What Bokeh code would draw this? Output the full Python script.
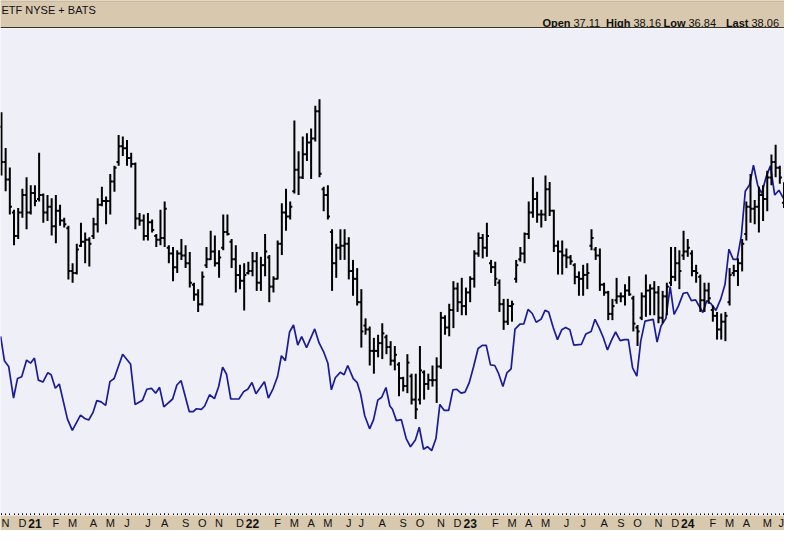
import numpy as np
from bokeh.plotting import figure
from bokeh.layouts import column
from bokeh.models import Range1d, LinearAxis, FixedTicker, Label, Span, ColumnDataSource
from bokeh.core.properties import value
from bokeh.embed import file_html
from bokeh.resources import INLINE

# ---------------- data (weekly OHLC bars, index 0 = first week shown) ----------------
high = [41.75, 39.92, 38.92, 36.75, 36.83, 37.83, 38.42, 38.00, 38.00, 39.67,
        37.58, 37.50, 37.33, 37.50, 37.00, 36.33, 35.92, 34.00, 35.00, 36.08,
        35.58, 35.33, 36.33, 37.33, 37.92, 37.42, 38.58, 39.00, 40.58, 40.50,
        40.33, 39.67, 39.17, 36.58, 36.50, 36.58, 36.25, 35.50, 36.75, 37.17,
        34.92, 34.83, 34.67, 35.25, 34.92, 34.58, 33.00,
        32.67, 33.58, 34.83,
        35.67, 35.42, 34.67, 36.50, 36.50, 35.25, 34.92, 33.92, 34.00, 34.08,
        34.58, 34.58, 34.33, 35.50, 34.42, 33.33, 35.17, 37.08, 37.83, 37.17,
        41.33, 39.75, 40.50, 40.67, 40.92, 42.08, 42.42, 37.92, 38.00, 35.75,
        35.00, 35.75, 35.75, 35.33, 34.17, 33.75, 32.67, 31.17, 30.75, 30.17,
        30.33, 30.92, 30.33, 30.00,
        29.75, 28.92, 28.17, 29.33, 28.33, 28.33,
        29.75, 28.50, 28.33, 28.75, 29.17, 31.50, 31.33, 31.92, 33.08, 33.00,
        33.25, 32.75, 33.33, 34.67, 35.58, 35.50, 36.08, 34.17, 34.08, 33.17,
        32.17, 32.17, 32.08, 34.17, 34.83, 35.58, 37.17, 38.42, 37.67, 36.75,
        38.50, 38.17, 36.75, 35.17, 35.17, 34.75, 34.42, 34.00, 33.58, 33.92, 34.00,
        35.75, 34.83, 34.75, 33.00, 32.58, 32.17, 33.25, 32.50, 32.92,
        33.33, 32.33, 30.83, 32.50, 33.42, 32.92, 33.08, 32.83, 32.58, 33.00,
        34.83, 34.83, 34.67, 35.67, 35.25, 34.67, 33.92, 33.42, 33.00, 33.00,
        31.83, 31.50, 31.42, 31.50, 33.75, 33.92, 34.25, 35.25, 37.17, 38.58,
        37.25, 37.92, 38.00, 38.75, 39.58, 40.08, 39.00, 38.16]

low = [38.50, 37.70, 36.50, 34.92, 35.25, 36.33, 35.75, 36.50, 36.92, 37.17,
       36.08, 36.17, 35.42, 35.03, 35.92, 35.83, 33.17, 33.00, 33.42, 34.83,
       34.00, 33.83, 35.25, 35.58, 36.92, 36.00, 36.50, 37.67, 39.00, 39.50,
       39.00, 38.92, 35.75, 35.92, 35.17, 35.17, 35.58, 34.83, 34.92, 34.83,
       34.00, 33.08, 33.50, 34.17, 33.75, 32.75, 32.08,
       31.50, 31.83, 33.75,
       34.17, 33.83, 33.25, 34.67, 35.42, 33.75, 32.50, 32.67, 31.58, 33.42,
       33.33, 32.58, 32.58, 33.33, 32.00, 32.50, 33.17, 34.42, 35.67, 36.25,
       37.58, 37.50, 38.33, 39.25, 38.33, 40.25, 38.42, 36.67, 36.25, 32.58,
       33.25, 34.17, 34.17, 33.17, 32.33, 31.83, 29.67, 30.33, 28.75, 28.33,
       29.17, 29.08, 29.33, 28.75,
       28.50, 27.17, 27.42, 27.33, 26.75, 26.00,
       26.75, 27.00, 27.50, 27.67, 26.83, 28.58, 30.33, 30.25, 30.67, 31.50,
       31.33, 31.33, 32.00, 32.75, 34.33, 34.25, 34.33, 33.50, 32.83, 31.50,
       30.58, 30.83, 31.00, 33.00, 34.08, 34.00, 35.25, 36.33, 36.08, 35.83,
       36.17, 36.42, 34.58, 33.42, 33.42, 33.75, 33.92, 32.92, 32.33, 32.33, 32.67,
       34.67, 34.17, 32.58, 32.33, 31.08, 31.08, 31.92, 32.00, 31.83,
       32.33, 30.50, 29.75, 31.08, 31.25, 31.33, 31.33, 30.92, 30.92, 31.33,
       32.83, 33.08, 32.67, 34.17, 34.33, 33.33, 33.00, 31.50, 31.50, 31.92,
       31.00, 30.08, 30.08, 30.00, 31.83, 33.33, 32.83, 33.58, 35.17, 36.08,
       36.00, 35.58, 36.17, 36.67, 38.00, 38.42, 38.08, 36.84]

open_ = [41.0, 39.2, 38.3, 36.6, 35.4, 36.6, 37.5, 36.6, 37.6, 37.3,
         37.5, 36.6, 36.9, 35.9, 36.7, 36.2, 35.8, 33.6, 33.5, 34.9,
         35.1, 35.2, 35.4, 36.0, 37.0, 37.2, 37.2, 38.2, 39.2, 40.0,
         39.9, 39.4, 39.1, 36.3, 36.2, 35.4, 36.1, 35.4, 35.2, 35.3,
         34.8, 34.5, 33.8, 34.5, 34.4, 34.0, 32.9,
         32.4, 31.9, 33.9,
         34.2, 34.6, 34.0, 34.8, 35.6, 35.1, 34.2, 33.4, 33.1, 33.5,
         33.6, 34.1, 33.0, 33.9, 34.3, 32.8, 33.2, 35.0, 36.6, 36.4,
         37.7, 38.8, 38.4, 39.6, 40.2, 40.4, 41.8, 37.8, 37.5, 35.6,
         34.0, 34.8, 34.9, 35.0, 33.6, 33.2, 32.0, 30.8, 30.6, 29.5,
         29.5, 29.9, 30.2, 29.7,
         29.0, 28.8, 28.1, 27.7, 28.2, 27.0,
         27.0, 28.4, 27.8, 28.0, 28.0, 28.7, 31.2, 30.7, 31.6, 32.7,
         32.0, 31.8, 32.5, 33.2, 34.5, 35.3, 34.8, 34.0, 33.8, 33.0,
         31.9, 31.0, 31.8, 33.2, 34.2, 34.5, 35.5, 36.6, 37.3, 36.5,
         36.5, 37.8, 36.7, 34.9, 34.6, 34.4, 34.3, 33.9, 33.3, 33.2, 33.4,
         34.9, 34.7, 34.4, 32.9, 32.5, 31.4, 32.1, 32.3, 32.3,
         32.6, 32.2, 30.7, 31.2, 32.3, 32.6, 32.7, 32.5, 31.2, 32.3,
         33.0, 33.3, 34.0, 34.4, 34.6, 34.5, 33.6, 33.3, 32.1, 32.6,
         31.6, 31.3, 30.6, 31.0, 32.0, 33.5, 33.6, 34.0, 35.5, 36.9,
         36.8, 36.9, 37.5, 37.3, 38.4, 39.2, 38.9, 37.11]

close = [39.2, 38.3, 36.9, 35.4, 36.6, 37.5, 36.6, 37.6, 37.2, 37.5,
         36.6, 36.9, 35.9, 36.7, 36.2, 36.0, 33.6, 33.5, 34.7, 35.1,
         35.2, 35.0, 36.0, 37.0, 37.2, 37.2, 38.2, 38.9, 40.0, 39.9,
         39.4, 39.1, 36.3, 36.2, 35.4, 36.1, 35.7, 35.2, 35.3, 36.8,
         34.5, 33.8, 34.5, 34.4, 34.0, 33.0, 32.4,
         31.9, 33.3, 34.2,
         34.6, 34.0, 34.3, 35.6, 35.5, 34.2, 33.4, 33.1, 33.4, 33.6,
         34.1, 33.0, 33.9, 34.6, 32.8, 33.2, 35.0, 36.6, 36.4, 36.9,
         38.8, 38.4, 39.6, 40.2, 40.4, 41.8, 38.6, 37.5, 36.4, 34.0,
         34.8, 34.9, 35.0, 33.6, 33.2, 32.0, 30.5, 30.6, 29.5, 29.5,
         29.9, 30.4, 29.7, 29.0,
         29.3, 28.1, 27.7, 28.9, 27.0, 26.5,
         28.5, 27.8, 28.0, 28.0, 28.7, 31.2, 30.7, 31.6, 32.7, 32.0,
         31.8, 32.5, 33.2, 34.5, 35.3, 34.8, 35.4, 33.8, 33.2, 31.9,
         31.0, 31.8, 31.9, 33.9, 34.5, 35.5, 36.6, 37.3, 36.5, 36.5,
         37.8, 36.7, 34.9, 34.6, 34.4, 34.3, 34.1, 33.3, 33.2, 33.4, 33.5,
         35.3, 34.4, 32.9, 32.5, 31.4, 31.8, 32.3, 32.3, 32.6,
         32.4, 30.9, 30.5, 32.3, 32.6, 32.7, 32.5, 31.2, 32.3, 32.8,
         33.3, 34.0, 33.6, 34.6, 34.8, 33.6, 33.5, 32.1, 32.6, 32.2,
         31.3, 30.6, 31.0, 31.3, 33.4, 33.6, 34.0, 35.0, 36.9, 36.8,
         36.9, 37.5, 37.3, 38.4, 39.2, 38.9, 38.4, 38.06]

# blue comparison line (week position, value)
rs_x = [-0.2, 0.70, 1.72, 2.89, 3.83, 4.84, 6.01, 6.95, 7.88, 8.82,
        9.91, 11.08, 11.87, 12.88, 13.82, 15.77, 16.94, 18.89, 19.91, 20.84,
        21.86, 22.79, 23.81, 24.90, 25.92, 26.93, 28.96, 30.84, 31.93, 33.72,
        34.74, 35.83, 36.85, 37.78, 38.80, 40.91, 41.92, 42.93, 44.89, 45.82,
        46.60, 47.78, 48.56, 49.73, 50.90, 51.91, 52.85, 53.79, 54.80, 56.75,
        57.92, 58.86, 59.87, 60.81, 62.84, 63.78, 64.95, 65.96, 66.90, 67.84,
        68.85, 69.79, 70.80, 71.74, 72.91, 74.86, 75.88, 77.05, 77.99, 78.84,
        79.78, 80.95, 81.89, 82.75, 84.07, 85.01, 85.79, 86.81, 87.98, 88.92,
        89.93, 90.87, 91.88, 92.82,
        93.44, 94.38, 95.55, 96.72, 97.74, 98.91, 99.84, 100.86, 101.80, 102.81,
        103.83, 104.76, 105.78, 106.87, 107.88, 108.82, 109.84, 110.77, 111.79, 112.80,
        113.90, 114.91, 115.85, 116.86, 117.88, 118.81, 119.83, 120.77, 121.78, 122.72,
        123.89, 124.82, 125.84, 126.85, 127.79, 128.96, 129.90, 130.76, 131.85, 132.87,
        133.88, 134.82, 135.83, 136.77, 138.57, 139.66,
        140.91, 141.84, 142.86, 143.79, 144.81, 145.74, 146.76, 147.85, 148.87, 149.80,
        150.82, 151.83, 152.77, 153.79, 155.74, 156.67, 157.61, 158.78, 159.80, 160.73,
        161.75, 162.92, 163.86, 164.87, 165.88, 167.60, 168.54, 169.56, 170.73, 171.90,
        172.91, 173.85, 174.86, 175.80, 176.81, 177.75, 178.77, 179.70, 180.72, 181.66,
        182.83, 183.76, 184.78, 185.79, 186.88]

rs_y = [30.25, 29.00, 28.70, 27.08, 28.08, 28.17, 29.03, 28.87, 29.13, 28.00,
        27.90, 28.38, 28.28, 27.58, 27.80, 26.00, 25.42, 26.20, 26.03, 25.95,
        26.33, 26.95, 26.88, 26.70, 27.92, 28.08, 29.33, 28.83, 26.75, 26.97,
        27.53, 27.58, 27.33, 27.63, 26.63, 27.03, 27.75, 27.97, 26.38, 26.38,
        26.53, 26.50, 26.67, 27.25, 27.05, 27.67, 28.67, 28.30, 27.03, 27.03,
        27.42, 27.53, 27.88, 27.30, 27.92, 27.08, 27.58, 28.17, 29.25, 29.00,
        30.47, 30.83, 29.80, 30.23, 29.67, 30.63, 29.92, 29.42, 28.88, 27.50,
        28.12, 28.40, 28.28, 28.75, 28.08, 27.87, 27.33, 26.17, 25.50, 25.97,
        26.97, 27.12, 27.62, 26.67,
        26.50, 25.92, 25.97, 25.00, 24.58, 24.92, 25.58, 24.45, 24.58, 24.38,
        25.00, 26.75, 26.45, 26.45, 27.50, 27.53, 27.33, 27.38, 27.87, 28.67,
        29.62, 29.78, 29.78, 28.78, 28.75, 28.33, 27.67, 28.37, 28.58, 30.62,
        30.87, 30.88, 31.63, 31.42, 30.97, 31.13, 31.58, 31.50, 30.70, 30.08,
        30.58, 30.70, 30.58, 29.80, 29.83, 30.37,
        30.50, 31.12, 30.67, 30.20, 29.55, 30.03, 30.47, 30.03, 30.08, 30.08,
        28.63, 28.20, 30.00, 31.03, 31.12, 29.95, 30.78, 31.17, 32.80, 31.38,
        31.80, 32.45, 32.50, 32.08, 32.12, 31.47, 32.08, 31.92, 31.58, 32.17,
        32.92, 34.72, 34.20, 34.20, 35.42, 37.70, 38.03, 39.03, 38.00, 37.58,
        38.50, 39.00, 37.50, 37.75, 37.33]

# month ticks (week index of the month label) and labels
month_pos = [0, 5, 13, 17, 22, 26, 30, 35, 39, 44, 48, 52, 57,
             66, 70, 74, 78, 83, 86, 91, 96, 100, 105, 109,
             118, 122, 126, 130, 135, 139, 144, 148, 152, 157, 161,
             170, 174, 178, 183, 187]
month_labels = ["N", "D", "F", "M", "A", "M", "J", "J", "A", "S", "O", "N", "D",
                "F", "M", "A", "M", "J", "J", "A", "S", "O", "N", "D",
                "F", "M", "A", "M", "J", "J", "A", "S", "O", "N", "D",
                "F", "M", "A", "M", "J"]
year_pos = [8, 60, 112, 164]
year_labels = ["21", "22", "23", "24"]

header_left = "ETF NYSE + BATS"
quote_fields = ["Open", "High", "Low", "Last"]
quote_values = ["37.11", "38.16", "36.84", "38.06"]

# ---------------- layout / style ----------------
W = 784
HEAD_H, MAIN_H, BAND_H = 28, 487, 15
X0, X1 = -0.23, 187.12
Y0, Y1 = 21.05, 46.05
TAN = "#d8c8ae"
BG = "#efeff8"
FONT = "Liberation Sans"
INK = "#111111"

shared_x = Range1d(X0, X1)

# --- header strip ---
head = figure(width=W, height=HEAD_H, output_backend="svg", toolbar_location=None,
              x_range=Range1d(0, W), y_range=Range1d(0, HEAD_H),
              x_axis_type=None, y_axis_type=None, min_border=0,
              background_fill_color=TAN, border_fill_color=TAN, outline_line_color=None)
head.add_layout(Span(location=0.5, dimension="width", line_color="black", line_width=1.3))
head.add_layout(Span(location=HEAD_H - 0.5, dimension="width", line_color="#bfae92", line_width=1))
head.add_layout(Label(x=1, y=HEAD_H - 9.5, text=header_left, text_baseline="middle",
                      text_font=FONT, text_font_size="11px", text_color=INK))
field_end = [570, 630, 685, 748]   # right edge of each bold field name
for fe, f, v in zip(field_end, quote_fields, quote_values):
    head.add_layout(Label(x=fe, y=HEAD_H - 22.5, text=f, text_baseline="middle",
                          text_align="right", text_font=FONT, text_font_size="11px",
                          text_font_style="bold", text_color=INK))
    head.add_layout(Label(x=fe + 3, y=HEAD_H - 22.5, text=v, text_baseline="middle",
                          text_align="left", text_font=FONT, text_font_size="11px",
                          text_color=INK))

# --- main price panel ---
p = figure(width=W, height=MAIN_H, output_backend="svg", toolbar_location=None,
           x_range=shared_x, y_range=Range1d(Y0, Y1),
           x_axis_type=None, y_axis_type=None, min_border=0,
           background_fill_color=BG, border_fill_color=TAN, outline_line_color=None)

n = len(high)
xaxis = LinearAxis(
    ticker=FixedTicker(ticks=sorted(month_pos + year_pos), minor_ticks=list(range(n))),
    major_label_overrides={pos: "" for pos in month_pos + year_pos},
    major_label_text_font_size="1px", major_label_standoff=0,
    axis_line_color="black", axis_line_width=1,
    major_tick_in=2, major_tick_out=0, major_tick_line_color="black",
    minor_tick_in=2, minor_tick_out=0, minor_tick_line_color="black")
p.add_layout(xaxis, "below")

idx = np.arange(n)
src = ColumnDataSource(dict(x=idx, xl=idx - 0.5, xr=idx + 0.5,
                            lo=low, hi=high, op=open_, cl=close))

p.line(rs_x, rs_y, line_color="#1b1b95", line_width=1.7)
p.segment(x0="x", y0="lo", x1="x", y1="hi", source=src, line_color="black", line_width=2)
p.segment(x0="xl", y0="op", x1="x", y1="op", source=src, line_color="black", line_width=2)
p.segment(x0="x", y0="cl", x1="xr", y1="cl", source=src, line_color="black", line_width=2)

# --- date band ---
band = figure(width=W, height=BAND_H, output_backend="svg", toolbar_location=None,
              x_range=shared_x, y_range=Range1d(0, BAND_H),
              x_axis_type=None, y_axis_type=None, min_border=0,
              background_fill_color=TAN, border_fill_color=TAN, outline_line_color=None)
# first and last month labels sit at the panel edges: align them inward so they stay whole
m_align = ["center"] * len(month_pos)
m_align[0] = "left"
m_align[-1] = "right"
msrc = ColumnDataSource(dict(x=month_pos, y=[BAND_H - 7.5] * len(month_pos),
                             t=month_labels, a=m_align))
band.text(x="x", y="y", text="t", text_align="a", source=msrc,
          text_baseline="middle", text_font=value(FONT),
          text_font_size="11px", text_color=INK)
band.text(x=year_pos, y=[BAND_H - 7.5] * len(year_pos), text=year_labels,
          text_align="center", text_baseline="middle", text_font=value(FONT),
          text_font_size="12px", text_font_style="bold", text_color=INK)

layout = column(head, p, band, spacing=0)
open("out.html", "w").write(file_html(layout, INLINE))
